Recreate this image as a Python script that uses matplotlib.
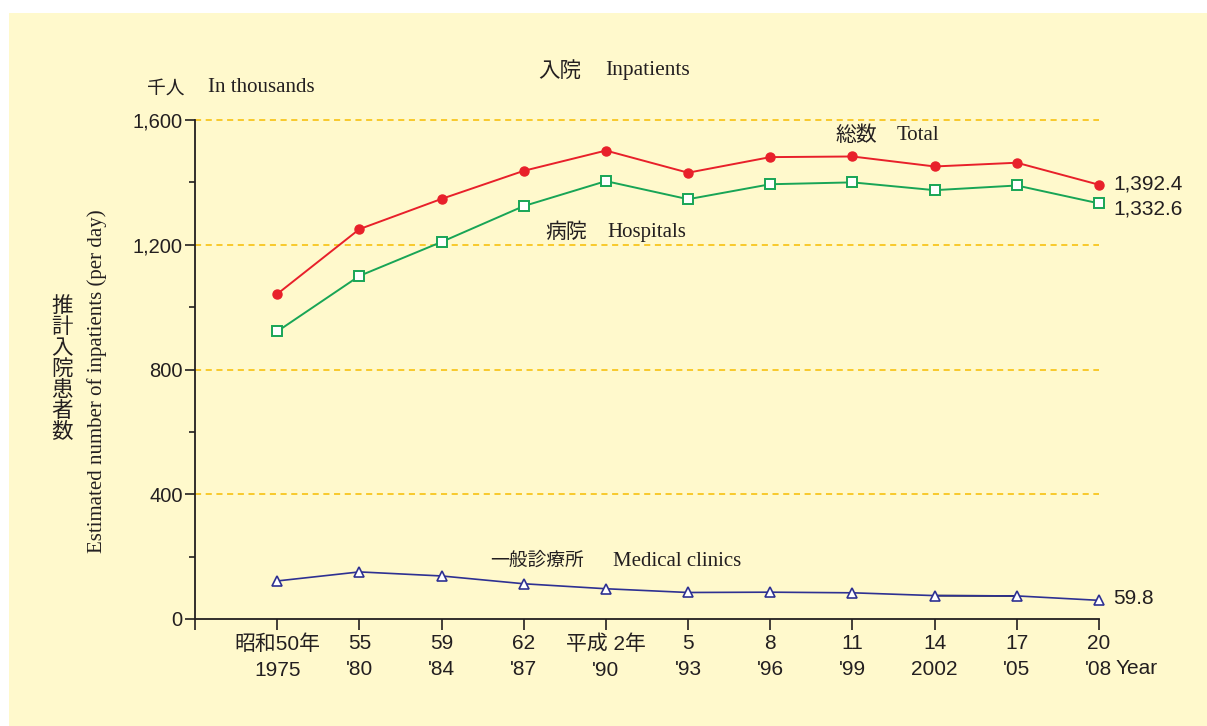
import matplotlib
matplotlib.use("Agg")
import matplotlib.pyplot as plt
from matplotlib.patches import Rectangle

W, H = 1207, 726

# data (thousands of inpatients per day)
era_labels = ["昭和50年\n1975", "55\n'80", "59\n'84", "62\n'87", "平成 2年\n'90", "5\n'93",
              "8\n'96", "11\n'99", "14\n2002", "17\n'05", "20\n'08"]
total = [1042, 1250, 1347, 1437, 1502, 1431, 1481, 1483, 1451, 1463, 1392.4]
hospitals = [922, 1100, 1209, 1324, 1404, 1346, 1394, 1400, 1375, 1390, 1332.6]
clinics = [122, 151, 138, 113, 97, 85, 86, 84, 75, 74, 59.8]
yticks = [0, 400, 800, 1200, 1600]

JP = ['Noto Sans CJK JP', 'DejaVu Sans']
SANS = ['Liberation Sans', 'Noto Sans CJK JP']
SERIF = ['Liberation Serif', 'DejaVu Serif']
DARK = '#231f20'

def px(x, y):
    return x / W, 1 - y / H

fig = plt.figure(figsize=(W / 100, H / 100), dpi=100)
fig.patch.set_facecolor('white')
fig.patches.append(Rectangle(px(9, 726), (W - 9) / W, (726 - 13) / H,
                             transform=fig.transFigure, facecolor='#fff9cc',
                             edgecolor='none', zorder=-5))

ax = fig.add_axes([195 / W, (H - 619) / H, (1099 - 195) / W, (619 - 120) / H])
ax.set_facecolor('none')
ax.set_zorder(2)
xs = list(range(len(total)))

for y in yticks[1:]:
    ax.axhline(y, color='#f6bc00', lw=1.1, ls=(0, (4, 3)), zorder=1, clip_on=False)

ax.plot(xs, total, color='#e8202a', lw=1.4, marker='o', ms=6.5,
        mfc='#e8202a', mec='#e8202a', zorder=3, clip_on=False)
ax.plot(xs, hospitals, color='#18a556', lw=1.4, marker='s', ms=6.5,
        mfc='white', mec='#18a556', mew=1.4, zorder=3, clip_on=False)
ax.plot(xs, clinics, color='#2e3192', lw=1.2, marker='^', ms=6.5,
        mfc='white', mec='#2e3192', mew=1.2, zorder=3, clip_on=False)
ax.plot(xs[8:10], clinics[8:10], color='black', lw=1.2, zorder=2)

ax.set_xlim(-1, 10)
ax.set_ylim(0, 1600)
ax.set_xticks([-1] + xs)
ax.set_xticklabels([''] + era_labels, fontfamily=SANS, fontsize=15,
                   color=DARK, linespacing=1.45)
ax.set_yticks(yticks)
ax.set_yticklabels(['0', '400', '800', '1,200', '1,600'], fontfamily=SANS,
                   fontsize=14.5, color=DARK)
ax.set_yticks([200, 600, 1000, 1400], minor=True)
ax.tick_params(axis='x', direction='out', length=8, width=1.2, color=DARK, pad=3)
ax.tick_params(axis='y', which='major', direction='out', length=7, width=1.2, color=DARK, pad=2)
ax.tick_params(axis='y', which='minor', direction='out', length=4, width=1.2, color=DARK)
for s in ['top', 'right']:
    ax.spines[s].set_visible(False)
for s in ['left', 'bottom']:
    ax.spines[s].set_color(DARK)
    ax.spines[s].set_linewidth(1.3)

def label(x, y, s, fam, size=15, **kw):
    fig.text(*px(x, y), s, fontfamily=fam, fontsize=size, color=DARK, va='center', **kw)

label(538, 71, '入院', JP, 15.5)
label(605, 71, 'Inpatients', SERIF, 15.5)
label(147, 88, '千人', JP, 13.5)
label(208, 88, 'In thousands', SERIF, 15)
label(835, 135, '総数', JP)
label(897, 136, 'Total', SERIF)
label(545, 232, '病院', JP)
label(607, 232, 'Hospitals', SERIF)
label(490, 560, '一般診療所', JP, 13.5)
label(613, 561, 'Medical clinics', SERIF)

label(1113, 184, '1,392.4', SANS, 15)
label(1113, 209, '1,332.6', SANS, 15)
label(1113, 598, '59.8', SANS, 15)
label(1116, 669, 'Year', SANS, 15)

fig.text(*px(62, 369), '\n'.join('推計入院患者数'), fontfamily=JP, fontsize=15.5,
         color=DARK, ha='center', va='center', linespacing=0.95)
fig.text(*px(97, 381), 'Estimated number of inpatients (per day)', fontfamily=SERIF,
         fontsize=15, color=DARK, ha='center', va='center', rotation=90)

fig.savefig('out.png', dpi=100)
